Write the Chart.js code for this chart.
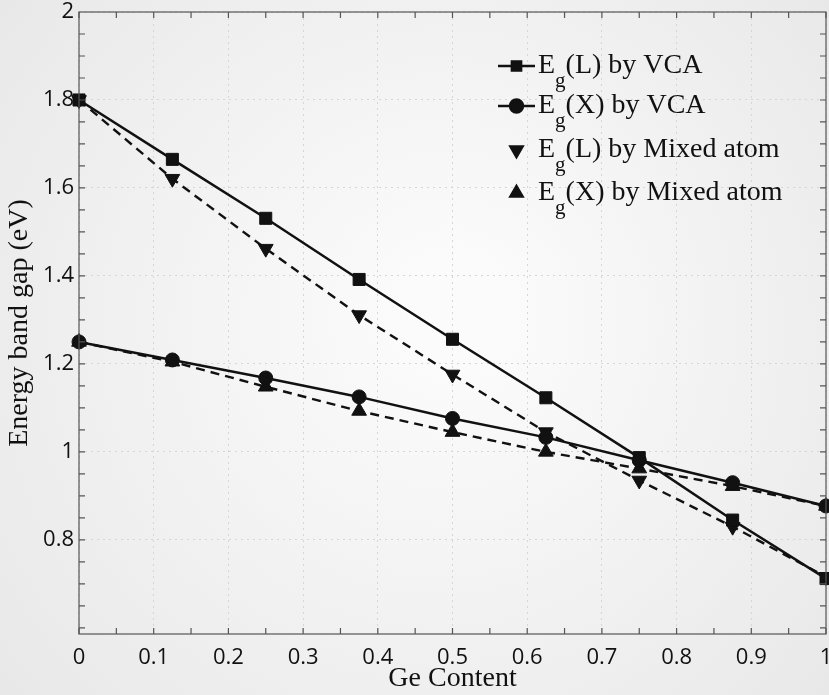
<!DOCTYPE html>
<html>
<head>
<meta charset="utf-8">
<script src="https://cdn.jsdelivr.net/npm/chart.js@4.4.1/dist/chart.umd.min.js"></script>
<style>
  html, body { margin: 0; padding: 0; background: #f1f1f1; }
  #wrap { width: 829px; height: 695px; }
</style>
</head>
<body>
<div id="wrap"><canvas id="grafica" width="829" height="695"></canvas></div>
<script>
// datos
const geContent = [0, 0.125, 0.25, 0.375, 0.5, 0.625, 0.75, 0.875, 1];
const egL_VCA   = [1.80, 1.665, 1.531, 1.392, 1.256, 1.123, 0.987, 0.845, 0.712];
const egX_VCA   = [1.25, 1.209, 1.168, 1.125, 1.076, 1.033, 0.981, 0.930, 0.877];
const egL_Mixed = [1.80, 1.621, 1.462, 1.311, 1.176, 1.045, 0.935, 0.830, 0.716];
const egX_Mixed = [1.25, 1.205, 1.148, 1.093, 1.045, 1.000, 0.962, 0.922, 0.877];
const xTicks = [0, 0.1, 0.2, 0.3, 0.4, 0.5, 0.6, 0.7, 0.8, 0.9, 1];
const yTicks = [0.8, 1, 1.2, 1.4, 1.6, 1.8, 2];
const legendLabels = [
    ['(L) by VCA', true, 'rect', 0],
    ['(X) by VCA', true, 'circle', 0],
    ['(L) by Mixed atom', false, 'triangle', 180],
    ['(X) by Mixed atom', false, 'triangle', 0]
];

const toPts = arr => arr.map((v, i) => ({ x: geContent[i], y: v }));
const fmt = v => String(Number(v.toFixed(2)));

const base = {
    borderColor: '#111',
    backgroundColor: '#111',
    pointBackgroundColor: '#111',
    pointBorderColor: '#111',
    borderWidth: 2.5,
    pointBorderWidth: 1,
    tension: 0
};

// caja y marcas menores hacia dentro
const boxPlugin = {
    id: 'boxTicks',
    afterDraw(chart) {
        const { ctx, chartArea: a, scales } = chart;
        ctx.save();
        ctx.strokeStyle = '#555';
        ctx.lineWidth = 1.2;
        ctx.strokeRect(a.left, a.top, a.right - a.left, a.bottom - a.top);
        for (let v = 0; v <= 1.0001; v += 0.05) {
            const x = scales.x.getPixelForValue(v);
            const len = 6;
            ctx.beginPath();
            ctx.moveTo(x, a.bottom); ctx.lineTo(x, a.bottom - len);
            ctx.moveTo(x, a.top); ctx.lineTo(x, a.top + len);
            ctx.stroke();
        }
        for (let v = 0.6; v <= 2.0001; v += 0.05) {
            const y = scales.y.getPixelForValue(v);
            if (y > a.bottom || y < a.top) continue;
            const len = 6;
            ctx.beginPath();
            ctx.moveTo(a.left, y); ctx.lineTo(a.left + len, y);
            ctx.moveTo(a.right, y); ctx.lineTo(a.right - len, y);
            ctx.stroke();
        }
        ctx.restore();
    }
};

// leyenda con subindice
const legendPlugin = {
    id: 'legendSub',
    afterDraw(chart) {
        const { ctx } = chart;
        const x0 = 498, x1 = 535, tx = 538;
        const rowY = [66, 106, 150, 193];
        ctx.save();
        legendLabels.forEach((item, i) => {
            const y = rowY[i];
            ctx.strokeStyle = '#111';
            ctx.fillStyle = '#111';
            if (item[1]) {
                ctx.lineWidth = 2.5;
                ctx.beginPath();
                ctx.moveTo(x0, y); ctx.lineTo(x1, y);
                ctx.stroke();
            }
            Chart.helpers.drawPoint(ctx, {
                pointStyle: item[2], radius: item[2] === 'triangle' ? 7 : 6.5,
                rotation: item[3], borderWidth: 1
            }, (x0 + x1) / 2, y);
            ctx.textBaseline = 'middle';
            ctx.textAlign = 'left';
            ctx.font = '28px "Liberation Serif", serif';
            ctx.fillText('E', tx, y);
            const w = ctx.measureText('E').width;
            ctx.font = '21px "Liberation Serif", serif';
            ctx.fillText('g', tx + w, y + 15);
            const wg = ctx.measureText('g').width;
            ctx.font = '28px "Liberation Serif", serif';
            ctx.fillText(item[0], tx + w + wg, y);
        });
        ctx.restore();
    }
};

const bgPlugin = {
    id: 'fondo',
    beforeDraw(chart) {
        const { ctx, width, height } = chart;
        ctx.save();
        const g = ctx.createRadialGradient(width * 0.55, height * 0.45, 50, width * 0.5, height * 0.5, 600);
        g.addColorStop(0, '#fbfbfb');
        g.addColorStop(1, '#e6e6e6');
        ctx.fillStyle = g;
        ctx.fillRect(0, 0, width, height);
        ctx.restore();
    }
};

new Chart(document.getElementById('grafica').getContext('2d'), {
    type: 'line',
    data: {
        datasets: [
            Object.assign({}, base, { label: 'Eg(L) by VCA', data: toPts(egL_VCA), pointStyle: 'rect', pointRadius: 8.5 }),
            Object.assign({}, base, { label: 'Eg(X) by VCA', data: toPts(egX_VCA), pointStyle: 'circle', pointRadius: 7 }),
            Object.assign({}, base, { label: 'Eg(L) by Mixed atom', data: toPts(egL_Mixed), pointStyle: 'triangle', rotation: 180, pointRadius: 8.5, borderDash: [9, 6], borderWidth: 2.4 }),
            Object.assign({}, base, { label: 'Eg(X) by Mixed atom', data: toPts(egX_Mixed), pointStyle: 'triangle', pointRadius: 8.5, borderDash: [9, 6], borderWidth: 2.4 })
        ]
    },
    options: {
        responsive: false,
        animation: false,
        clip: false,
        layout: { autoPadding: false, padding: { top: 12, right: 3, left: 0, bottom: 0 } },
        plugins: {
            legend: { display: false },
            tooltip: { enabled: false }
        },
        scales: {
            x: {
                type: 'linear',
                min: 0, max: 1,
                afterBuildTicks: s => { s.ticks = xTicks.map(v => ({ value: v })); },
                afterFit: s => { s.height = 61; s.paddingLeft = 0; s.paddingRight = 0; },
                ticks: {
                    callback: fmt,
                    color: '#111',
                    font: { family: '"Open Sans", sans-serif', size: 22 },
                    padding: 11,
                    maxRotation: 0,
                    autoSkip: false
                },
                grid: { color: '#d6d6d6', lineWidth: 1, drawTicks: false },
                border: { display: false, dash: [2, 4] },
                title: {
                    display: true, text: 'Ge Content', color: '#111',
                    font: { family: '"Liberation Serif", serif', size: 28 },
                    padding: { top: -14, bottom: 0 }
                }
            },
            y: {
                type: 'linear',
                min: 0.586, max: 2,
                afterBuildTicks: s => { s.ticks = yTicks.map(v => ({ value: v })); },
                afterFit: s => { s.width = 79; s.paddingTop = 0; s.paddingBottom = 0; },
                ticks: {
                    callback: fmt,
                    color: '#111',
                    font: { family: '"Open Sans", sans-serif', size: 22 },
                    padding: 5
                },
                grid: { color: '#d6d6d6', lineWidth: 1, drawTicks: false },
                border: { display: false, dash: [2, 4] },
                title: {
                    display: true, text: 'Energy band gap (eV)', color: '#111',
                    font: { family: '"Liberation Serif", serif', size: 28 },
                    padding: { top: 3, bottom: 0 }
                }
            }
        }
    },
    plugins: [bgPlugin, boxPlugin, legendPlugin]
});
</script>
</body>
</html>
